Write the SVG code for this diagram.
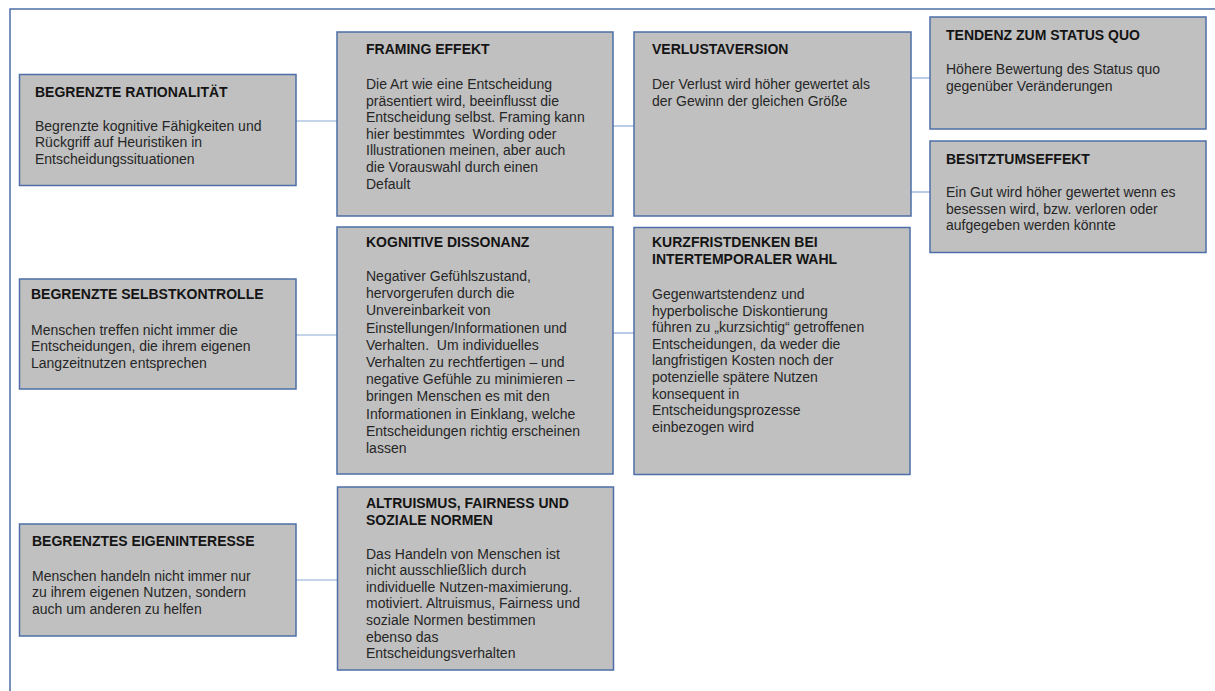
<svg xmlns="http://www.w3.org/2000/svg" width="1215" height="691" viewBox="0 0 1215 691">
  <style>
    .box { fill: #c0c0c0; stroke: #4e6ea8; stroke-width: 1.5; }
    .frame { fill: none; stroke: #4e6ea8; stroke-width: 1.5; }
    .link { fill: none; stroke: #8ea9d8; stroke-width: 1.2; }
    .title { font-family: "Liberation Sans", Arial, sans-serif; font-size: 14px; font-weight: bold; fill: #141414; }
    .body { font-family: "Liberation Sans", Arial, sans-serif; font-size: 14px; fill: #262626; }
  </style>

  <rect width="1215" height="691" fill="#ffffff"/>

  <!-- outer frame: only the top and left edges are visible -->
  <path class="frame" d="M10 691 V9 H1215"/>

  <!-- connectors -->
  <g id="connectors">
    <line class="link" x1="296" y1="121" x2="337" y2="121"/>
    <line class="link" x1="613" y1="126" x2="634" y2="126"/>
    <line class="link" x1="911" y1="78" x2="930" y2="78"/>
    <line class="link" x1="911" y1="192" x2="930" y2="192"/>
    <line class="link" x1="296" y1="335" x2="337" y2="335"/>
    <line class="link" x1="613" y1="333" x2="634" y2="333"/>
    <line class="link" x1="296" y1="580" x2="337" y2="580"/>
  </g>

  <!-- left column -->
  <g id="begrenzte-rationalitaet">
    <rect class="box" x="19.5" y="74.5" width="276.5" height="111"/>
    <text class="title" x="35" y="96.5">BEGRENZTE RATIONALITÄT</text>
    <text class="body" x="35" y="130.5">
      <tspan x="35">Begrenzte kognitive Fähigkeiten und</tspan>
      <tspan x="35" dy="16.5">Rückgriff auf Heuristiken in</tspan>
      <tspan x="35" dy="16.5">Entscheidungssituationen</tspan>
    </text>
  </g>

  <g id="begrenzte-selbstkontrolle">
    <rect class="box" x="19.5" y="279" width="276.5" height="110"/>
    <text class="title" x="31" y="299">BEGRENZTE SELBSTKONTROLLE</text>
    <text class="body" x="31" y="334.5">
      <tspan x="31">Menschen treffen nicht immer die</tspan>
      <tspan x="31" dy="16.5">Entscheidungen, die ihrem eigenen</tspan>
      <tspan x="31" dy="16.5">Langzeitnutzen entsprechen</tspan>
    </text>
  </g>

  <g id="begrenztes-eigeninteresse">
    <rect class="box" x="19.5" y="524" width="276.5" height="112"/>
    <text class="title" x="32" y="546">BEGRENZTES EIGENINTERESSE</text>
    <text class="body" x="32" y="580.5">
      <tspan x="32">Menschen handeln nicht immer nur</tspan>
      <tspan x="32" dy="16.5">zu ihrem eigenen Nutzen, sondern</tspan>
      <tspan x="32" dy="16.5">auch um anderen zu helfen</tspan>
    </text>
  </g>

  <!-- middle column -->
  <g id="framing-effekt">
    <rect class="box" x="337" y="32" width="276" height="184"/>
    <text class="title" x="366" y="54">FRAMING EFFEKT</text>
    <text class="body" x="366" y="89">
      <tspan x="366">Die Art wie eine Entscheidung</tspan>
      <tspan x="366" dy="16.6">präsentiert wird, beeinflusst die</tspan>
      <tspan x="366" dy="16.6">Entscheidung selbst. Framing kann</tspan>
      <tspan x="366" dy="16.6" xml:space="preserve">hier bestimmtes  Wording oder</tspan>
      <tspan x="366" dy="16.6">Illustrationen meinen, aber auch</tspan>
      <tspan x="366" dy="16.6">die Vorauswahl durch einen</tspan>
      <tspan x="366" dy="16.6">Default</tspan>
    </text>
  </g>

  <g id="kognitive-dissonanz">
    <rect class="box" x="337" y="227" width="276" height="247"/>
    <text class="title" x="366" y="247">KOGNITIVE DISSONANZ</text>
    <text class="body" x="366" y="281">
      <tspan x="366">Negativer Gefühlszustand,</tspan>
      <tspan x="366" dy="17.2">hervorgerufen durch die</tspan>
      <tspan x="366" dy="17.2">Unvereinbarkeit von</tspan>
      <tspan x="366" dy="17.2">Einstellungen/Informationen und</tspan>
      <tspan x="366" dy="17.2" xml:space="preserve">Verhalten.  Um individuelles</tspan>
      <tspan x="366" dy="17.2">Verhalten zu rechtfertigen – und</tspan>
      <tspan x="366" dy="17.2">negative Gefühle zu minimieren –</tspan>
      <tspan x="366" dy="17.2">bringen Menschen es mit den</tspan>
      <tspan x="366" dy="17.2">Informationen in Einklang, welche</tspan>
      <tspan x="366" dy="17.2">Entscheidungen richtig erscheinen</tspan>
      <tspan x="366" dy="17.2">lassen</tspan>
    </text>
  </g>

  <g id="altruismus-fairness">
    <rect class="box" x="337.5" y="487" width="276" height="183"/>
    <text class="title" x="366" y="508">
      <tspan x="366">ALTRUISMUS, FAIRNESS UND</tspan>
      <tspan x="366" dy="17">SOZIALE NORMEN</tspan>
    </text>
    <text class="body" x="366" y="558.5">
      <tspan x="366">Das Handeln von Menschen ist</tspan>
      <tspan x="366" dy="16.6">nicht ausschließlich durch</tspan>
      <tspan x="366" dy="16.6">individuelle Nutzen-maximierung.</tspan>
      <tspan x="366" dy="16.6">motiviert. Altruismus, Fairness und</tspan>
      <tspan x="366" dy="16.6">soziale Normen bestimmen</tspan>
      <tspan x="366" dy="16.6">ebenso das</tspan>
      <tspan x="366" dy="16.6">Entscheidungsverhalten</tspan>
    </text>
  </g>

  <!-- right-middle column -->
  <g id="verlustaversion">
    <rect class="box" x="634" y="32" width="277" height="184"/>
    <text class="title" x="652" y="54">VERLUSTAVERSION</text>
    <text class="body" x="652" y="89">
      <tspan x="652">Der Verlust wird höher gewertet als</tspan>
      <tspan x="652" dy="16.6">der Gewinn der gleichen Größe</tspan>
    </text>
  </g>

  <g id="kurzfristdenken">
    <rect class="box" x="634" y="227.5" width="276" height="247"/>
    <text class="title" x="652" y="247">
      <tspan x="652">KURZFRISTDENKEN BEI</tspan>
      <tspan x="652" dy="17">INTERTEMPORALER WAHL</tspan>
    </text>
    <text class="body" x="652" y="299">
      <tspan x="652">Gegenwartstendenz und</tspan>
      <tspan x="652" dy="16.6">hyperbolische Diskontierung</tspan>
      <tspan x="652" dy="16.6">führen zu „kurzsichtig“ getroffenen</tspan>
      <tspan x="652" dy="16.6">Entscheidungen, da weder die</tspan>
      <tspan x="652" dy="16.6">langfristigen Kosten noch der</tspan>
      <tspan x="652" dy="16.6">potenzielle spätere Nutzen</tspan>
      <tspan x="652" dy="16.6">konsequent in</tspan>
      <tspan x="652" dy="16.6">Entscheidungsprozesse</tspan>
      <tspan x="652" dy="16.6">einbezogen wird</tspan>
    </text>
  </g>

  <!-- right column -->
  <g id="status-quo">
    <rect class="box" x="930" y="17" width="276" height="112"/>
    <text class="title" x="946" y="40">TENDENZ ZUM STATUS QUO</text>
    <text class="body" x="946" y="74">
      <tspan x="946">Höhere Bewertung des Status quo</tspan>
      <tspan x="946" dy="16.6">gegenüber Veränderungen</tspan>
    </text>
  </g>

  <g id="besitztumseffekt">
    <rect class="box" x="930" y="141" width="276" height="111.5"/>
    <text class="title" x="946" y="164">BESITZTUMSEFFEKT</text>
    <text class="body" x="946" y="197">
      <tspan x="946">Ein Gut wird höher gewertet wenn es</tspan>
      <tspan x="946" dy="16.6">besessen wird, bzw. verloren oder</tspan>
      <tspan x="946" dy="16.6">aufgegeben werden könnte</tspan>
    </text>
  </g>
</svg>
